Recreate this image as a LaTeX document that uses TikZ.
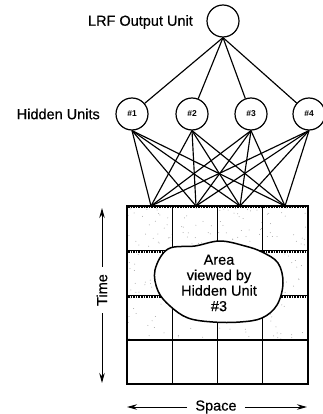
\documentclass[tikz,border=0pt]{standalone}
\usepackage{fontspec}
\setmainfont{Liberation Sans}
\newfontfamily\heavy[FakeBold=0.5]{Liberation Sans}
\usetikzlibrary{arrows.meta}
\begin{document}
\begin{tikzpicture}[x=1pt,y=-1pt,
  unit/.style={circle,draw,line width=1.2pt,minimum size=32pt,inner sep=0pt,fill=white},
  numfont/.style={font=\bfseries\fontsize{8.5}{9}\selectfont},
  lbl/.style={font=\heavy\fontsize{14.5}{15.5}\selectfont,inner sep=1pt},
  conn/.style={line width=1.15pt},
  gridline/.style={line width=1.3pt},
  axis/.style={line width=1pt},
  tip/.style={-{Stealth[length=10pt,width=5.5pt]}}]
\useasboundingbox (0,0) rectangle (323,414);
% stipple texture in the upper three rows
\pgfmathsetseed{11}
\foreach \i in {1,...,260}{
  \pgfmathsetmacro\rx{128+179*rnd}
  \pgfmathsetmacro\ry{207+132*rnd}
  \fill[gray!70] (\rx,\ry) circle (0.5pt);
}
% grid
\draw[gridline] (127,206) rectangle (308,384);
\foreach \x in {172.5,217.5,262.5} \draw[gridline] (\x,206) -- (\x,384);
\foreach \y in {250.5,295.5,340} \draw[gridline] (127,\y) -- (308,\y);
\foreach \y in {206,250.5,295.5} \draw[densely dotted,line width=1.6pt] (128,\y+1.6) -- (307,\y+1.6);
% area blob
\draw[line width=1.5pt,fill=white] plot[smooth cycle,tension=0.6] coordinates {
  (168,249) (195,246) (220,241) (245,246) (262,252) (278,263) (283,283)
  (277,305) (262,318) (240,322) (213,322) (188,318) (170,306) (158,291) (155,270)};
\node[lbl,align=center] (area) at (219,283) {Area\\viewed by\\Hidden Unit\\\#3};
% units
\node[unit] (out) at (223,21) {};
\node[lbl,anchor=east] (outlbl) at (194,22) {LRF Output Unit};
\node[unit,numfont] (h1) at (132,114) {\#1};
\node[unit,numfont] (h2) at (192,114) {\#2};
\node[unit,numfont] (h3) at (251,114) {\#3};
\node[unit,numfont] (h4) at (309,114) {\#4};
\node[lbl,anchor=east] (hidlbl) at (101,114) {Hidden Units};
% input points on top of grid
\coordinate (p1) at (151,206);
\coordinate (p2) at (196,206);
\coordinate (p3) at (240,206);
\coordinate (p4) at (285,206);
\foreach \h in {1,...,4}{
  \draw[conn] (out.south) -- (h\h);
  \foreach \p in {1,...,4} \draw[conn] (h\h.south) -- (p\p);
}
% axes
\node[lbl,rotate=90,inner sep=7pt] (time) at (102,290) {Time};
\coordinate (ttop) at (102,208);
\coordinate (tbot) at (102,383);
\draw[axis,tip] (time) -- (ttop);
\draw[axis,tip] (time) -- (tbot);
\node[lbl,inner xsep=8pt] (space) at (216,407) {Space};
\coordinate (sl) at (127,407);
\coordinate (sr) at (307,407);
\draw[axis,tip] (space) -- (sl);
\draw[axis,tip] (space) -- (sr);
\end{tikzpicture}
\end{document}
